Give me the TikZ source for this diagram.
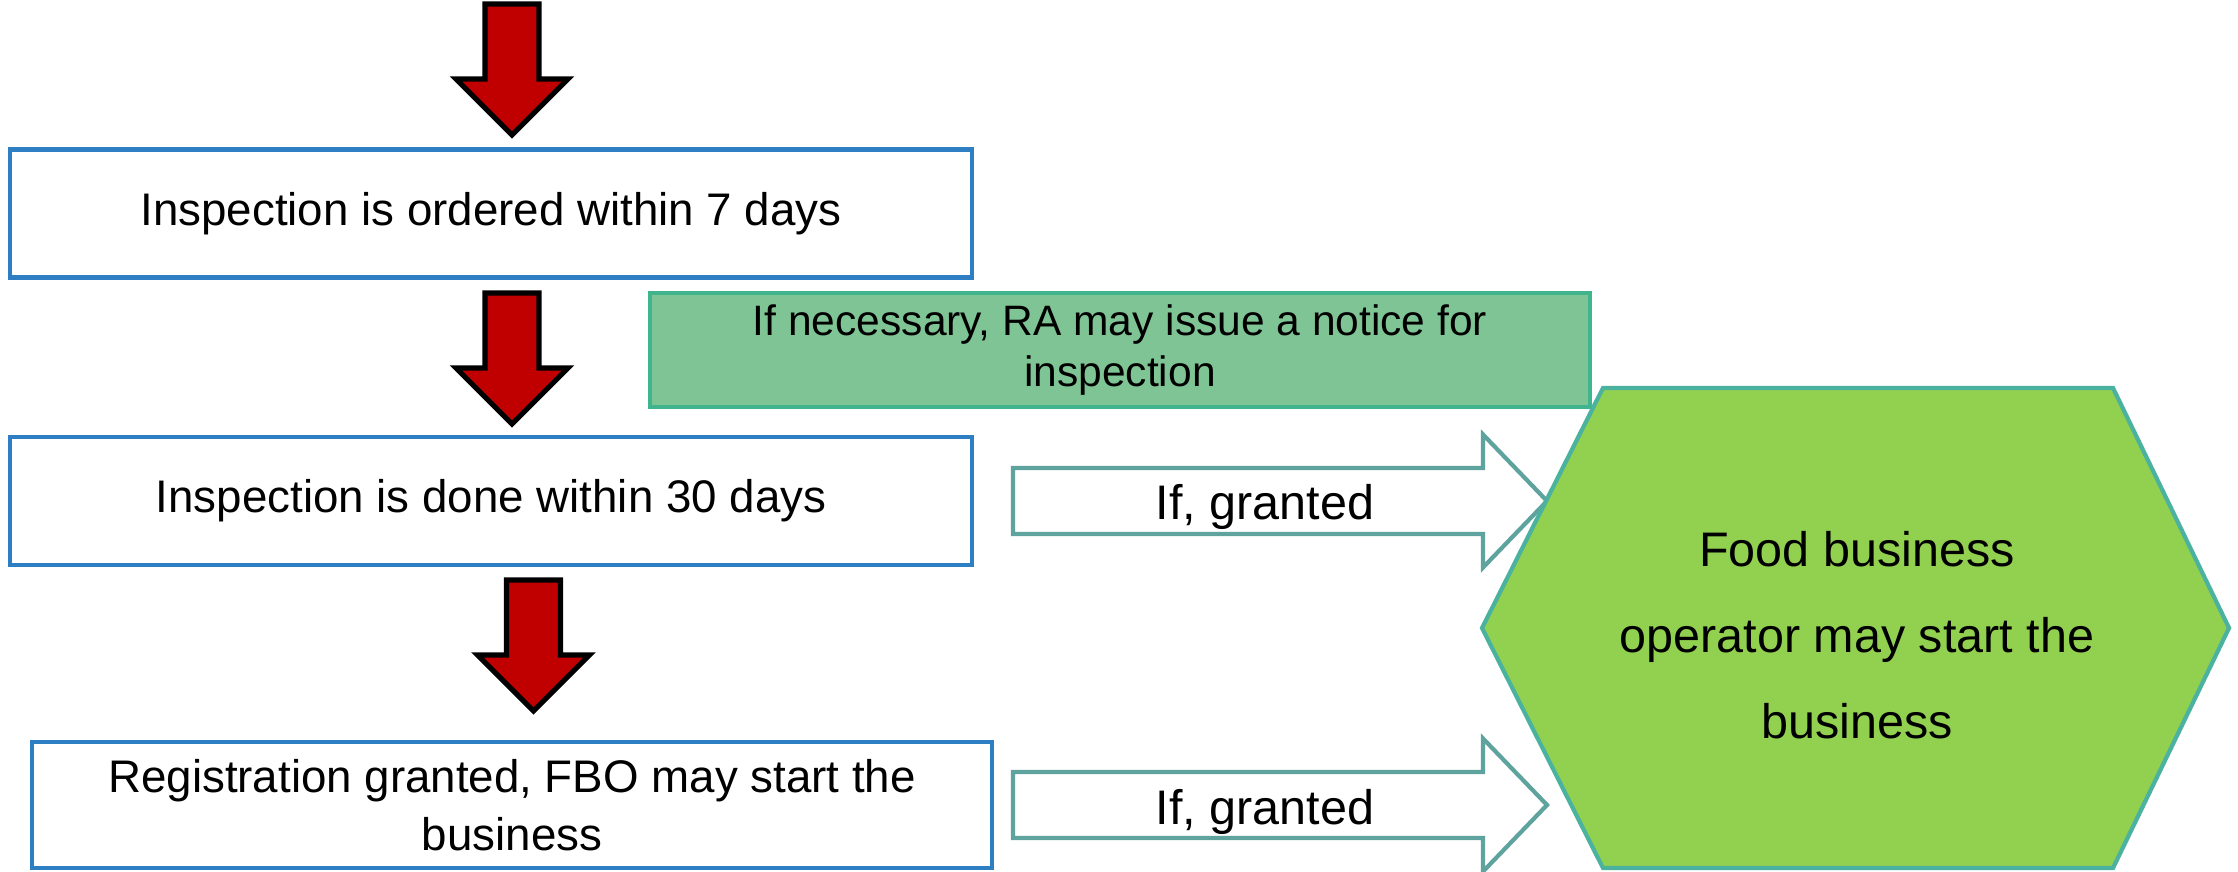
\documentclass[tikz,border=0pt]{standalone}
\usepackage{fontspec}
\setmainfont{Liberation Sans}
\usetikzlibrary{positioning}
\definecolor{boxblue}{RGB}{46,126,196}
\definecolor{arrowred}{RGB}{192,0,0}
\definecolor{noticegreen}{RGB}{127,196,148}
\definecolor{noticeedge}{RGB}{64,180,140}
\definecolor{grantedge}{RGB}{95,163,159}
\definecolor{hexgreen}{RGB}{146,208,80}
\definecolor{hexedge}{RGB}{75,178,160}
\tikzstyle{stagebox} = [rectangle, draw=boxblue, line width=1.2pt, fill=white,
    align=center, minimum width=9.62cm, minimum height=1.28cm, inner sep=0pt,
    font=\fontsize{13}{16.5}\selectfont]
\tikzstyle{notice} = [rectangle, draw=noticeedge, fill=noticegreen, line width=1.2pt,
    align=center, minimum width=9.4cm, minimum height=1.14cm, inner sep=0pt,
    font=\fontsize{12.1}{14.5}\selectfont]
\tikzstyle{downblock} = [draw=black, fill=arrowred, line width=1.5pt, line join=miter]
\tikzstyle{grantblock} = [draw=grantedge, fill=white, line width=1.2pt, line join=miter]
\tikzstyle{hexagon} = [draw=hexedge, fill=hexgreen, line width=1.2pt]
\tikzstyle{label} = [font=\fontsize{13.8}{16}\selectfont]

\begin{document}
\begin{tikzpicture}
    \useasboundingbox (0,0) rectangle (22.38,8.71);

    % Down arrows between stages
    \foreach \ax/\ay in {5.12/8.67, 5.12/5.78, 5.335/2.91}
        \draw [downblock] (\ax-0.27,\ay) -- (\ax+0.27,\ay) -- (\ax+0.27,\ay-0.75)
            -- (\ax+0.56,\ay-0.75) -- (\ax,\ay-1.31) -- (\ax-0.56,\ay-0.75)
            -- (\ax-0.27,\ay-0.75) -- cycle;

    % Stage blocks
    \node [stagebox] (ordered) at (4.91,6.575) {Inspection is ordered within 7 days};
    \node [stagebox] (done) at (4.91,3.70) {Inspection is done within 30 days};
    \node [stagebox, minimum width=9.60cm, minimum height=1.26cm] (granted) at (5.12,0.66)
        {Registration granted, FBO may start the\\business};
    \node [notice] (notice) at (11.20,5.21) {If necessary, RA may issue a notice for\\inspection};

    % Hollow arrows towards the outcome
    \foreach \gy in {3.70, 0.66}
        \draw [grantblock] (10.13,\gy+0.33) -- (14.83,\gy+0.33) -- (14.83,\gy+0.665)
            -- (15.47,\gy) -- (14.83,\gy-0.665) -- (14.83,\gy-0.33)
            -- (10.13,\gy-0.33) -- cycle;
    \node [label] (ifdone) at (12.65,3.64) {If, granted};
    \node [label] (ifreg) at (12.65,0.59) {If, granted};

    % Outcome
    \draw [hexagon] (14.82,2.43) -- (16.03,4.83) -- (21.13,4.83) -- (22.29,2.43)
        -- (21.13,0.03) -- (16.03,0.03) -- cycle;
    \node [label, align=center, font=\fontsize{13.8}{24.5}\selectfont] (fbo) at (18.57,2.36)
        {Food business\\operator may start the\\business};
\end{tikzpicture}
\end{document}
